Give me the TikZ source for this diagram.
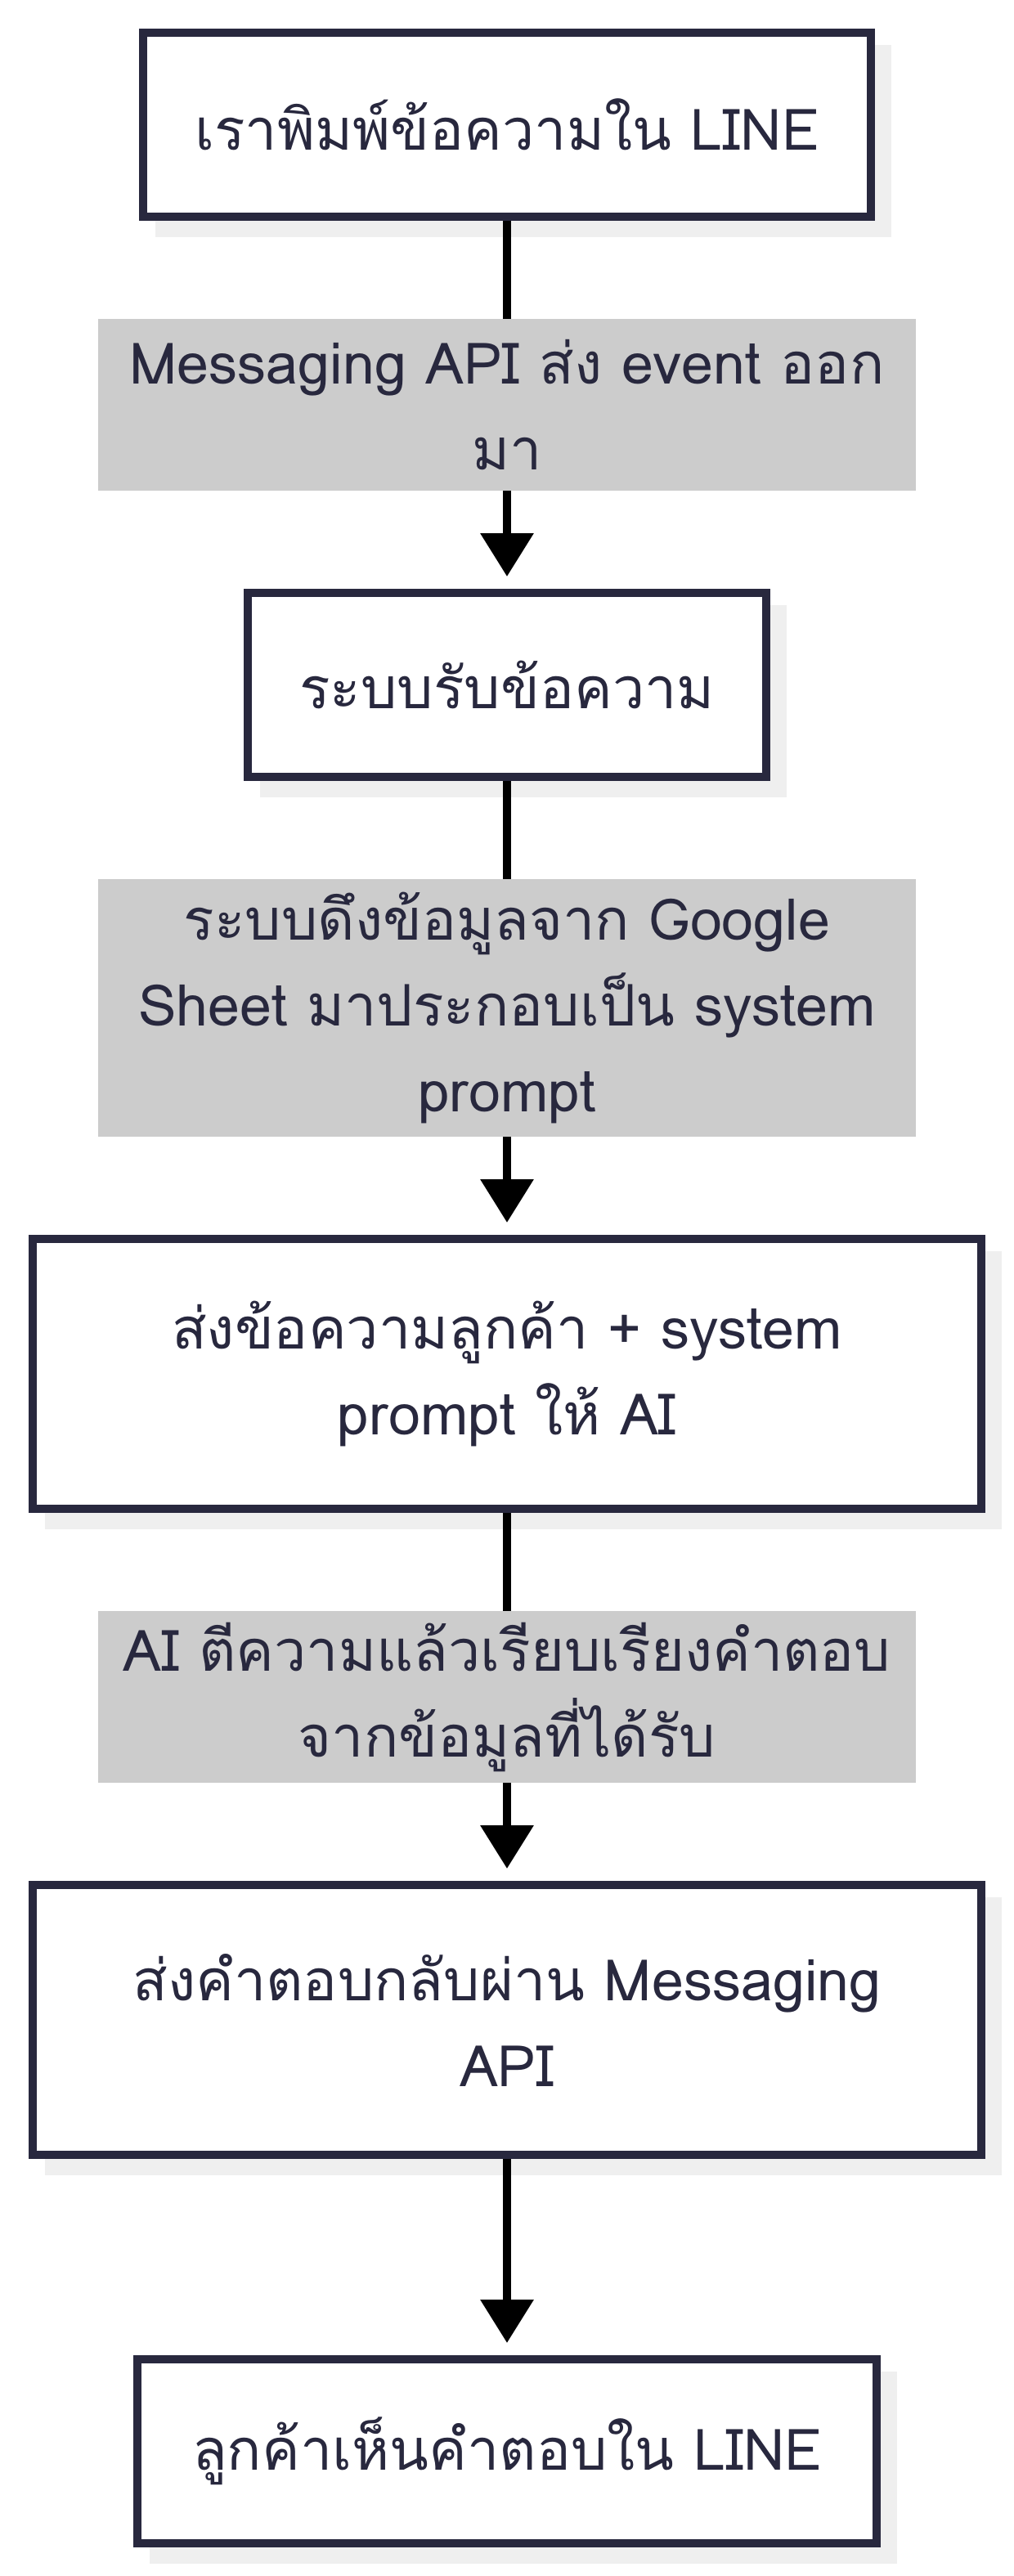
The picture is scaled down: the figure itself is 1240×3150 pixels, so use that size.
\documentclass[tikz,border=0pt]{standalone}
\usepackage{fontspec}
\setmainfont[Script=Thai]{Loma}
\usepackage{tikz}
\usetikzlibrary{arrows.meta,shadows}

\definecolor{ink}{RGB}{40,40,62}
\definecolor{labelgray}{HTML}{CCCCCC}
\definecolor{shadowgray}{HTML}{EFEFEF}

\begin{document}
\begin{tikzpicture}[x=0.5pt,y=-0.5pt,->,>={Triangle[width=31.5pt,length=26.5pt]},
	stepnode/.style={rectangle,draw=ink,line width=5pt,fill=white,inner sep=0pt,align=center,text=ink,
		font=\fontsize{35}{52.5}\selectfont,
		drop shadow={shadow xshift=10pt,shadow yshift=-10pt,fill=shadowgray,draw=shadowgray,line width=5pt,opacity=1}},
	edgelabel/.style={rectangle,fill=labelgray,inner sep=0pt,align=center,text=ink,minimum width=500pt,
		font=\fontsize{35}{52.5}\selectfont}]
	
	\useasboundingbox (0,0) rectangle (1240,3150);
	
	\node [stepnode, minimum width=445pt, minimum height=112.5pt] (b1) at (620, 152.5) {เราพิมพ์ข้อความใน LINE};
	\node [edgelabel, minimum height=105pt] (l1) at (620, 495) {Messaging API ส่ง event ออก\\มา};
	\node [stepnode, minimum width=317pt, minimum height=112.5pt] (b2) at (620, 837.5) {ระบบรับข้อความ};
	\node [edgelabel, minimum height=157.5pt] (l2) at (620, 1232.5) {ระบบดึงข้อมูลจาก Google\\Sheet มาประกอบเป็น system\\prompt};
	\node [stepnode, minimum width=580pt, minimum height=165pt] (b3) at (620, 1680) {ส่งข้อความลูกค้า + system\\prompt ให้ AI};
	\node [edgelabel, minimum height=105pt] (l3) at (620, 2075) {AI ตีความแล้วเรียบเรียงคำตอบ\\จากข้อมูลที่ได้รับ};
	\node [stepnode, minimum width=580pt, minimum height=165pt] (b4) at (620, 2470) {ส่งคำตอบกลับผ่าน Messaging\\API};
	\node [stepnode, minimum width=452pt, minimum height=112.5pt] (b5) at (620, 2997.5) {ลูกค้าเห็นคำตอบใน LINE};
	
	\draw [-, line width=5pt] (b1) to (l1);
	\draw [line width=5pt, shorten >=7.5pt] (l1) to (b2);
	\draw [-, line width=5pt] (b2) to (l2);
	\draw [line width=5pt, shorten >=7.5pt] (l2) to (b3);
	\draw [-, line width=5pt] (b3) to (l3);
	\draw [line width=5pt, shorten >=7.5pt] (l3) to (b4);
	\draw [line width=5pt, shorten >=7.5pt] (b4) to (b5);
\end{tikzpicture}
\end{document}
